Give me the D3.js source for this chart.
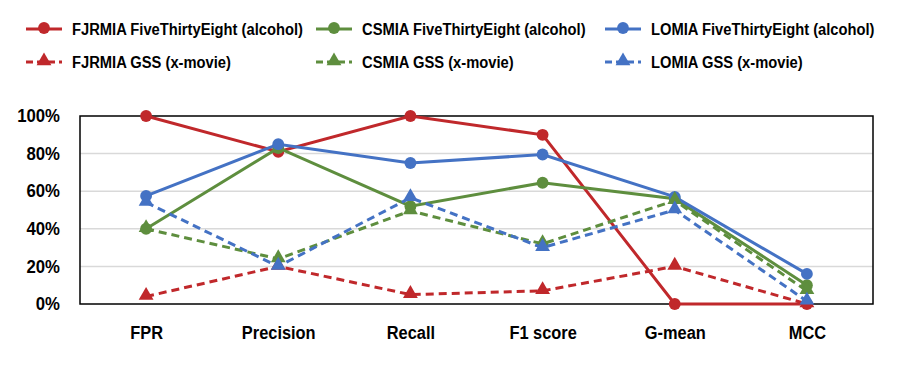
<!DOCTYPE html>
<html>
<head>
<meta charset="utf-8">
<script src="https://cdn.jsdelivr.net/npm/d3@7"></script>
<style>
  html, body { margin: 0; padding: 0; background: #fff; }
  svg { display: block; }
  text { font-family: "Liberation Sans", Arial, sans-serif; font-weight: bold; fill: #000; }
</style>
</head>
<body>
<svg id="chart" width="900" height="376"></svg>
<script>
const categories = ["FPR", "Precision", "Recall", "F1 score", "G-mean", "MCC"];
const seriesNames = [
  "FJRMIA FiveThirtyEight (alcohol)", "CSMIA FiveThirtyEight (alcohol)", "LOMIA FiveThirtyEight (alcohol)",
  "FJRMIA GSS (x-movie)", "CSMIA GSS (x-movie)", "LOMIA GSS (x-movie)"
];
const fjrmiaFTE = [100, 81, 100, 90, 0, 0];
const csmiaFTE  = [40, 83, 52, 64.5, 56, 10];
const lomiaFTE  = [57.5, 85, 75, 79.5, 57, 16];
const fjrmiaGSS = [4, 20, 5, 7, 20, 0];
const csmiaGSS  = [40, 24, 49.5, 32, 55, 7];
const lomiaGSS  = [54, 20, 56.5, 30, 50, 1.5];
const yTicks = [0, 20, 40, 60, 80, 100];

const colors = ["#C0282B", "#5E8E3E", "#4472C4", "#C0282B", "#5E8E3E", "#4472C4"];
const dashed = [false, false, false, true, true, true];
const allValues = [fjrmiaFTE, csmiaFTE, lomiaFTE, fjrmiaGSS, csmiaGSS, lomiaGSS];

const svg = d3.select("#chart");
const mLeft = 80, mRight = 873, mTop = 116, mBottom = 304;
const fontFam = '"Liberation Sans", Arial, sans-serif';

function squeeze(sel, k) {
  sel.each(function() {
    const w = this.getComputedTextLength();
    d3.select(this).attr("textLength", w * k).attr("lengthAdjust", "spacingAndGlyphs");
  });
}

const x = d3.scalePoint().domain(categories).range([mLeft, mRight]).padding(0.5);
const y = d3.scaleLinear().domain([0, 100]).range([mBottom, mTop]);

// gridlines
svg.append("g").selectAll("line").data(yTicks.filter(d => d > 0 && d < 100)).join("line")
  .attr("x1", mLeft).attr("x2", mRight)
  .attr("y1", d => y(d)).attr("y2", d => y(d))
  .attr("stroke", "#d9d9d9").attr("stroke-width", 1.5);

// y axis labels
const yAxis = d3.axisLeft(y).tickValues(yTicks).tickFormat(d => d + "%").tickSize(0).tickPadding(20);
const gy = svg.append("g").attr("transform", `translate(${mLeft},0)`).call(yAxis);
gy.select(".domain").remove();
gy.selectAll("text").attr("font-size", 18).style("font-family", fontFam).style("font-weight", "bold").attr("fill", "#000");
squeeze(gy.selectAll("text"), 0.93);

// x axis labels
const xAxis = d3.axisBottom(x).tickSize(0).tickPadding(22);
const gx = svg.append("g").attr("transform", `translate(0,${mBottom})`).call(xAxis);
gx.select(".domain").remove();
gx.selectAll("text").attr("font-size", 18).style("font-family", fontFam).style("font-weight", "bold").attr("fill", "#000");
squeeze(gx.selectAll("text"), 0.91);

// plot border
svg.append("rect").attr("x", mLeft).attr("y", mTop).attr("width", mRight - mLeft).attr("height", mBottom - mTop)
  .attr("fill", "none").attr("stroke", "#000").attr("stroke-width", 1.5);

const tri = d3.symbol().type(d3.symbolTriangle).size(95);
const circ = d3.symbol().type(d3.symbolCircle).size(110);

const line = d3.line().x((d, i) => x(categories[i])).y(d => y(d));

allValues.forEach((vals, s) => {
  const g = svg.append("g");
  g.append("path").datum(vals).attr("d", line)
    .attr("fill", "none").attr("stroke", colors[s]).attr("stroke-width", 3)
    .attr("stroke-dasharray", dashed[s] ? "8,5" : null);
  g.selectAll("path.m").data(vals).join("path").attr("class", "m")
    .attr("transform", (d, i) => `translate(${x(categories[i])},${y(d) + (dashed[s] ? -1 : 0)})`)
    .attr("d", dashed[s] ? tri : circ)
    .attr("fill", colors[s]);
});

// legend
const legendX = [26, 316, 605];
const legendY = [29, 62];
seriesNames.forEach((name, s) => {
  const col = s % 3, row = Math.floor(s / 3);
  const lx = legendX[col], ly = legendY[row];
  const g = svg.append("g").attr("transform", `translate(${lx},${ly})`);
  g.append("line").attr("x1", 0).attr("x2", 36).attr("y1", 0).attr("y2", 0)
    .attr("stroke", colors[s]).attr("stroke-width", 3)
    .attr("stroke-dasharray", dashed[s] ? "7,4" : null);
  g.append("path").attr("transform", "translate(18,-1)").attr("d", dashed[s] ? tri : circ).attr("fill", colors[s]);
  const t = g.append("text").attr("x", 46).attr("y", 6).attr("font-size", 16).text(name);
  squeeze(t, 0.92);
});
</script>
</body>
</html>
